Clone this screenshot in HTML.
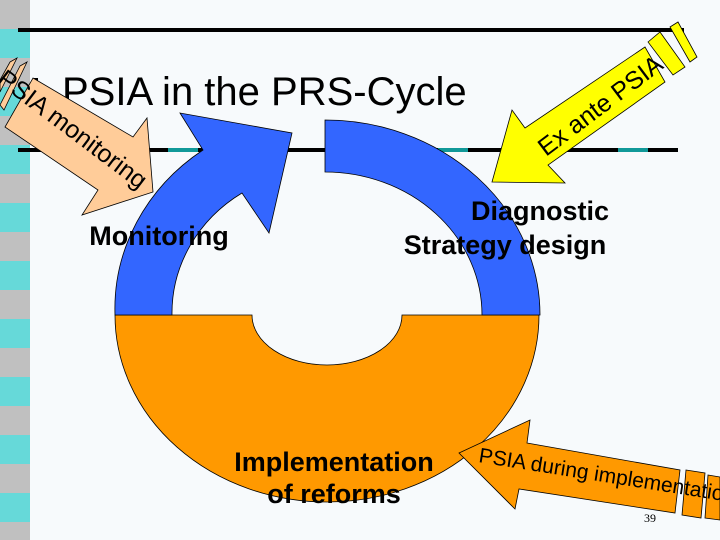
<!DOCTYPE html>
<html><head><meta charset="utf-8"><style>
html,body{margin:0;padding:0;background:#f7fafc}
svg{display:block}
text{font-family:"Liberation Sans",Arial,sans-serif}
</style></head><body>
<svg width="720" height="540" viewBox="0 0 720 540" xmlns="http://www.w3.org/2000/svg">
<defs>
<pattern id="st" x="0" y="0" width="30" height="58" patternUnits="userSpaceOnUse">
<rect width="30" height="29" fill="#c0c0c0"/><rect y="29" width="30" height="29" fill="#66d9d9"/>
</pattern>
<pattern id="ln" x="18" y="0" width="90" height="4" patternUnits="userSpaceOnUse">
<rect width="60" height="4" fill="#000"/><rect x="60" width="30" height="4" fill="#119999"/>
</pattern>
</defs>
<rect width="720" height="540" fill="#f7fafc"/>
<rect x="0" y="0" width="30" height="540" fill="url(#st)"/>
<rect x="18" y="28" width="666" height="4" fill="#000"/>
<rect x="18" y="148" width="660" height="4" fill="url(#ln)"/>
<rect x="33" y="78" width="5" height="22" fill="#000"/>
<text x="62" y="105" font-size="40">PSIA in the PRS-Cycle</text>

<path d="M115,315 A212,187 0 0 0 539,315 L402,315 A75,50 0 0 1 252,315 Z" fill="#ff9900" stroke="#000" stroke-width="0.8"/>
<path d="M325,120 A215,195 0 0 1 540,315 L482,315 A157,143 0 0 0 325,172 Z" fill="#3366ff" stroke="#000" stroke-width="0.8"/>
<path d="M115,315 A210,195 0 0 1 203,150 L180,113 L292,133 L269,233 L242,193 A153,143 0 0 0 172,315 Z" fill="#3366ff" stroke="#000" stroke-width="0.8"/>

<g fill="#ffcc99" stroke="#000" stroke-width="0.8">
<polygon points="33,78 133,137 147,118 153,192 82,215 98,190 5,127"/>
<polygon points="10,62 17,58 0,92 0,80"/>
<polygon points="20,66 27,62 4,110 0,105"/>
</g>
<text transform="translate(-4,82) rotate(37)" font-size="25">PSIA monitoring</text>

<g fill="#ffff00" stroke="#000" stroke-width="0.8">
<polygon points="525,128 645,47 665,82 548,165 565,183 492,182 512,110"/>
<polygon points="648,42 660,32 685,67 673,75"/>
<polygon points="670,27 678,22 697,57 690,62"/>
</g>
<text transform="translate(546,157) rotate(-37)" font-size="25">Ex ante PSIA</text>

<g fill="#ff9900" stroke="#000" stroke-width="0.8">
<polygon points="527,443 680,470 675,513 519,489 515,509 459,453 530,420"/>
<polygon points="686,470 705,473 701,518 682,515"/>
<polygon points="708,475 720,477 720,520 705,518"/>
</g>
<text transform="translate(478,462) rotate(9)" font-size="21">PSIA during implementation</text>

<g font-weight="bold" font-size="27">
<text x="159" y="245" text-anchor="middle">Monitoring</text>
<text x="540" y="220" text-anchor="middle">Diagnostic</text>
<text x="505" y="254" text-anchor="middle">Strategy design</text>
<text x="334" y="471" text-anchor="middle">Implementation</text>
<text x="334" y="503" text-anchor="middle">of reforms</text>
</g>
<text x="644" y="522" font-size="12" style="font-family:'Liberation Serif',serif">39</text>
</svg>
</body></html>
